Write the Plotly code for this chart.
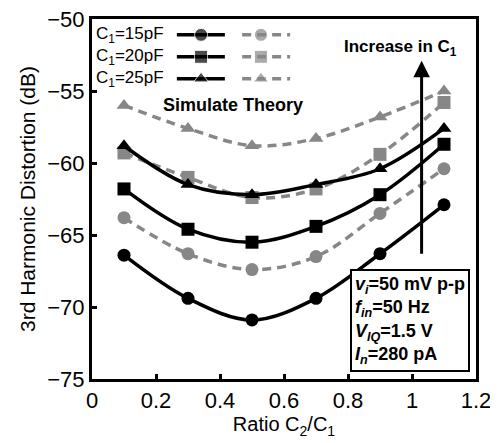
import plotly.graph_objects as go

ratio = [0.1, 0.3, 0.5, 0.7, 0.9, 1.1]
sim_15 = [-66.4, -69.4, -70.9, -69.4, -66.3, -62.9]
sim_20 = [-61.8, -64.6, -65.5, -64.4, -62.2, -58.7]
sim_25 = [-58.8, -61.5, -62.2, -61.5, -60.4, -57.6]
theo_15 = [-63.8, -66.3, -67.4, -66.5, -63.5, -60.4]
theo_20 = [-59.3, -61.0, -62.4, -61.8, -59.4, -55.8]
theo_25 = [-56.0, -57.6, -58.8, -58.3, -56.8, -55.0]
labels = ["C<sub>1</sub>=15pF", "C<sub>1</sub>=20pF", "C<sub>1</sub>=25pF"]
symbols = ["circle", "square", "triangle-up"]
x_ticks = [0, 0.2, 0.4, 0.6, 0.8, 1, 1.2]
x_tick_text = ["0", "0.2", "0.4", "0.6", "0.8", "1", "1.2"]
y_ticks = [-75, -70, -65, -60, -55, -50]

FONT = "Liberation Sans, Arial, sans-serif"
BLACK = "#000000"
GRAY = "#878787"

fig = go.Figure()

sims = [sim_15, sim_20, sim_25]
theos = [theo_15, theo_20, theo_25]
for i in range(3):
    fig.add_trace(go.Scatter(x=ratio, y=theos[i], mode="lines+markers",
                             line=dict(color=GRAY, width=3.5, dash="9px,6px", shape="spline"),
                             marker=dict(symbol=symbols[i], size=13, color=GRAY),
                             showlegend=False))
for i in range(3):
    fig.add_trace(go.Scatter(x=ratio, y=sims[i], mode="lines+markers",
                             line=dict(color=BLACK, width=3.5, shape="spline"),
                             marker=dict(symbol=symbols[i], size=13, color=BLACK),
                             showlegend=False))

# manual legend (overlay axes in plot-area fractions)
leg_rows = [0.956, 0.895, 0.834]
for i in range(3):
    yy = leg_rows[i]
    fig.add_trace(go.Scatter(x=[0.221, 0.284, 0.346], y=[yy, yy, yy], xaxis="x2", yaxis="y2",
                             mode="lines+markers", line=dict(color=BLACK, width=3.5),
                             marker=dict(symbol=symbols[i], size=[0, 13, 0], color=BLACK),
                             showlegend=False, hoverinfo="skip"))
    fig.add_trace(go.Scatter(x=[0.391, 0.44, 0.516], y=[yy, yy, yy], xaxis="x2", yaxis="y2",
                             mode="lines+markers", line=dict(color=GRAY, width=3.5, dash="9px,6px"),
                             marker=dict(symbol=symbols[i], size=[0, 13, 0], color=GRAY),
                             showlegend=False, hoverinfo="skip"))
    fig.add_annotation(x=0.005, y=yy, xref="x2 domain", yref="y2", text=labels[i],
                       showarrow=False, xanchor="left", yanchor="middle",
                       font=dict(family=FONT, size=17, color=BLACK))

fig.add_annotation(x=0.18, y=0.76, xref="x2 domain", yref="y2", text="<b>Simulate Theory</b>",
                   showarrow=False, xanchor="left", yanchor="middle",
                   font=dict(family=FONT, size=18, color=BLACK))

# arrow
fig.add_annotation(x=1.03, y=-52.9, ax=1.03, ay=-66.4, xref="x", yref="y", axref="x", ayref="y",
                   showarrow=True, arrowhead=2, arrowsize=1.1, arrowwidth=3, arrowcolor=BLACK, text="")
fig.add_annotation(x=0.965, y=-52.0, xref="x", yref="y", text="<b>Increase in C<sub>1</sub></b>",
                   showarrow=False, xanchor="center", yanchor="middle",
                   font=dict(family=FONT, size=17, color=BLACK))

# condition box
fig.add_annotation(x=1.18, y=-74.5, xref="x", yref="y", xanchor="right", yanchor="bottom",
                   text="<b><i>v<sub>i</sub></i>=50 mV p-p<br><i>f<sub>in</sub></i>=50 Hz<br>"
                        "<i>V<sub>IQ</sub></i>=1.5 V<br><i>I<sub>n</sub></i>=280 pA</b>",
                   showarrow=False, align="left", bordercolor=BLACK, borderwidth=2,
                   bgcolor="white", borderpad=3,
                   font=dict(family=FONT, size=18, color=BLACK))

axis_common = dict(showline=True, linewidth=3, linecolor=BLACK, mirror=True,
                   ticks="inside", ticklen=5, tickwidth=3, tickcolor=BLACK,
                   showgrid=False, zeroline=False, automargin=False,
                   ticklabeloverflow="allow",
                   tickfont=dict(family=FONT, size=22, color=BLACK))

# page body has an 8px default margin; figure sized to fit the window
fig.update_layout(
    width=490, height=435,
    margin=dict(l=84, r=22, t=11, b=64),
    plot_bgcolor="white", paper_bgcolor="white",
    xaxis=dict(range=[0, 1.2], tickvals=x_ticks, ticktext=x_tick_text,
               title=dict(text="Ratio C<sub>2</sub>/C<sub>1</sub>", standoff=4,
                          font=dict(family=FONT, size=20, color=BLACK)), **axis_common),
    yaxis=dict(range=[-75, -50], tickvals=y_ticks,
               title=dict(text="3rd Harmonic Distortion (dB)", standoff=6,
                          font=dict(family=FONT, size=21, color=BLACK)), **axis_common),
    xaxis2=dict(range=[0, 1], overlaying="x", visible=False, fixedrange=True),
    yaxis2=dict(range=[0, 1], overlaying="y", visible=False, fixedrange=True),
)

fig.write_html("out.html")
